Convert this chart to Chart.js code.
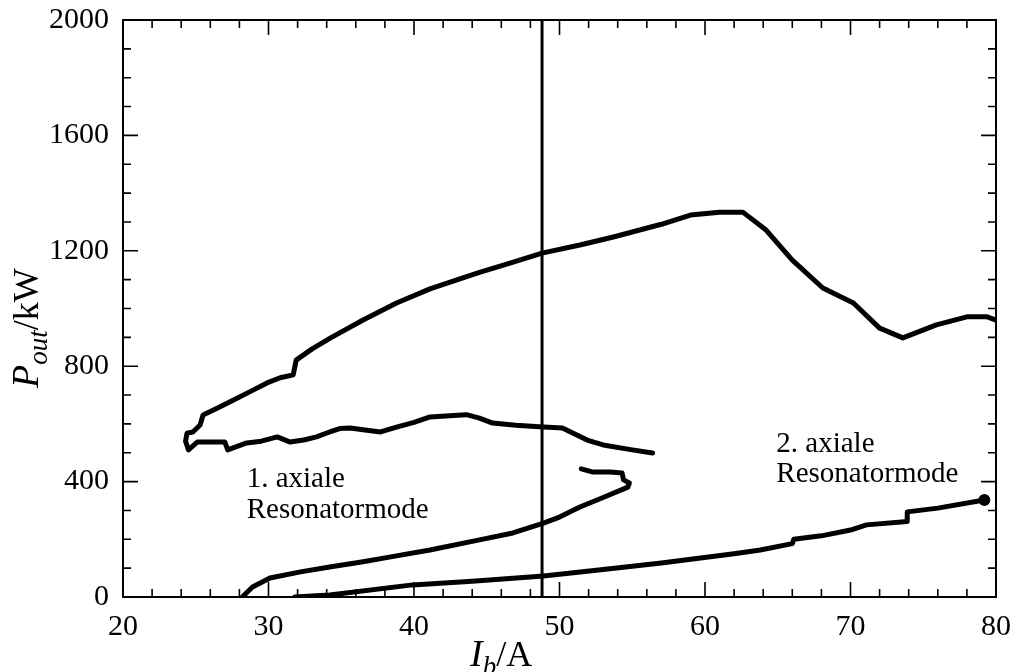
<!DOCTYPE html>
<html lang="de">
<head>
  <meta charset="UTF-8">
  <title>Pout über Ib</title>
  <script src="https://cdn.jsdelivr.net/npm/chart.js"></script>
  <style>
    html, body { margin: 0; padding: 0; background: #fff; }
    #wrap { width: 1018px; height: 672px; }
  </style>
</head>
<body>
  <div id="wrap"><canvas id="chart" width="1018" height="672"></canvas></div>

  <script>
    // Hysterese-Schleife (unterer Ast von rechts nach links, dann oberer Ast)
    const loopI = [56.4, 55.0, 53.0, 51.9, 50.2, 48.9, 47.0, 45.4, 44.5, 43.6, 43.0, 41.1, 40.0, 38.8, 37.7, 36.5, 35.6, 34.9, 34.2, 33.3, 32.5, 31.5, 30.6, 29.5, 28.5, 27.2, 27.0, 25.1, 24.5, 24.3, 24.4, 24.8, 25.3, 25.5, 26.5, 27.6, 28.7, 29.9, 30.8, 31.7, 31.9, 33.0, 34.3, 36.5, 38.8, 41.1, 43.0, 44.5, 46.6, 48.8, 51.4, 53.7, 57.0, 59.0, 61.0, 62.6, 64.2, 66.0, 68.1, 70.2, 72.0, 73.6, 75.9, 78.0, 79.4, 80.0];
    const loopP = [499, 510, 527, 544, 586, 589, 595, 603, 620, 632, 630, 624, 605, 589, 572, 580, 586, 584, 572, 555, 545, 537, 555, 540, 534, 510, 537, 537, 510, 540, 568, 572, 596, 631, 655, 683, 711, 742, 760, 770, 821, 860, 899, 960, 1019, 1068, 1100, 1125, 1157, 1192, 1220, 1248, 1292, 1324, 1334, 1334, 1272, 1168, 1071, 1019, 932, 898, 943, 971, 971, 960];

    // 1. axiale Resonatormode
    const mode1I = [28.2, 28.9, 30.1, 32.2, 34.2, 36.5, 38.4, 41.1, 44.5, 46.8, 48.9, 50.0, 51.4, 53.0, 54.7, 54.8, 54.4, 54.3, 53.5, 52.3, 51.5];
    const mode1P = [0, 35, 66, 87, 104, 122, 139, 163, 198, 222, 256, 277, 312, 345, 381, 395, 406, 430, 433, 433, 444];

    // 2. axiale Resonatormode
    const mode2I = [31.8, 34.2, 39.9, 44.0, 48.9, 53.0, 57.0, 59.7, 62.0, 63.8, 66.0, 66.1, 68.0, 70.0, 71.1, 73.9, 73.9, 76.0, 79.2];
    const mode2P = [0, 7, 42, 55, 73, 95, 118, 135, 150, 163, 185, 200, 212, 232, 250, 262, 295, 308, 336];

    // senkrechte Markierung
    const markerI = 48.8;

    const xMajor = [20, 30, 40, 50, 60, 70, 80];
    const yMajor = [0, 400, 800, 1200, 1600, 2000];

    const serif = '"Liberation Serif", "Times New Roman", serif';

    function pts(xs, ys) {
      return xs.map((x, i) => ({ x: x, y: ys[i] }));
    }

    // Ticks nach innen, auf allen vier Seiten, plus Rahmen und Beschriftungen
    const framePlugin = {
      id: 'frame',
      afterDatasetsDraw(chart) {
        const ctx = chart.ctx;
        const a = chart.chartArea;
        const xs = chart.scales.x, ys = chart.scales.y;
        ctx.save();
        ctx.strokeStyle = '#000';
        ctx.lineWidth = 2;
        ctx.strokeRect(a.left, a.top, a.right - a.left, a.bottom - a.top);

        ctx.lineWidth = 1.6;
        ctx.beginPath();
        xs.ticks.forEach(t => {
          const px = xs.getPixelForValue(t.value);
          const len = xMajor.includes(t.value) ? 15 : 8;
          ctx.moveTo(px, a.bottom); ctx.lineTo(px, a.bottom - len);
          ctx.moveTo(px, a.top); ctx.lineTo(px, a.top + len);
        });
        ys.ticks.forEach(t => {
          const py = ys.getPixelForValue(t.value);
          const len = yMajor.includes(t.value) ? 15 : 8;
          ctx.moveTo(a.left, py); ctx.lineTo(a.left + len, py);
          ctx.moveTo(a.right, py); ctx.lineTo(a.right - len, py);
        });
        ctx.stroke();

        // Textmarken in den Mode-Bereichen
        ctx.fillStyle = '#000';
        ctx.font = '29px ' + serif;
        ctx.textAlign = 'left';
        ctx.textBaseline = 'alphabetic';
        ctx.fillText('1. axiale', xs.getPixelForValue(28.5), ys.getPixelForValue(381));
        ctx.fillText('Resonatormode', xs.getPixelForValue(28.5), ys.getPixelForValue(274));
        ctx.fillText('2. axiale', xs.getPixelForValue(64.9), ys.getPixelForValue(503));
        ctx.fillText('Resonatormode', xs.getPixelForValue(64.9), ys.getPixelForValue(399));

        // Achsentitel mit Index
        function title(x, y, rot, main, sub, rest) {
          ctx.save();
          ctx.translate(x, y);
          ctx.rotate(rot);
          let cx = 0;
          ctx.font = 'italic 38px ' + serif;
          ctx.fillText(main, cx, 0);
          cx += ctx.measureText(main).width;
          ctx.font = 'italic 27px ' + serif;
          ctx.fillText(sub, cx, 9);
          cx += ctx.measureText(sub).width;
          ctx.font = '36px ' + serif;
          ctx.fillText(rest, cx, 0);
          ctx.restore();
        }
        title(470, 666, 0, 'I', 'b', '/A');
        title(38, 388, -Math.PI / 2, 'P', 'out', '/kW');
        ctx.restore();
      }
    };

    const line = { showLine: true, borderColor: '#000', backgroundColor: '#000', pointRadius: 0, borderWidth: 5, borderJoinStyle: 'round', borderCapStyle: 'round', tension: 0 };

    new Chart(document.getElementById('chart'), {
      type: 'scatter',
      data: {
        datasets: [
          Object.assign({ label: 'Schleife', data: pts(loopI, loopP) }, line),
          Object.assign({ label: '1. axiale Resonatormode', data: pts(mode1I, mode1P) }, line),
          Object.assign({ label: '2. axiale Resonatormode', data: pts(mode2I, mode2P) }, line, {
            pointRadius: c => c.dataIndex === mode2I.length - 1 ? 3.5 : 0
          }),
          Object.assign({ label: 'Markierung', data: pts([markerI, markerI], [0, 2000]) }, line, { borderWidth: 3, borderCapStyle: 'butt' })
        ]
      },
      options: {
        responsive: false,
        animation: false,
        layout: { padding: { top: 20, right: 22, left: 0, bottom: 0 } },
        plugins: { legend: { display: false }, tooltip: { enabled: false } },
        scales: {
          x: {
            type: 'linear', min: 20, max: 80,
            afterFit: s => { s.height = 75; s.paddingLeft = 0; s.paddingRight = 0; },
            afterBuildTicks: s => { s.ticks = []; for (let v = 20; v <= 80; v += 2) s.ticks.push({ value: v }); },
            grid: { display: false, drawTicks: false },
            border: { display: false },
            ticks: {
              autoSkip: false, maxRotation: 0, padding: 12, color: '#000',
              font: { family: serif, size: 30 },
              callback: v => xMajor.includes(v) ? String(v) : ''
            }
          },
          y: {
            type: 'linear', min: 0, max: 2000,
            afterFit: s => { s.width = 123; s.paddingTop = 0; s.paddingBottom = 0; },
            afterBuildTicks: s => { s.ticks = []; for (let v = 0; v <= 2000; v += 100) s.ticks.push({ value: v }); },
            grid: { display: false, drawTicks: false },
            border: { display: false },
            ticks: {
              autoSkip: false, padding: 14, color: '#000',
              font: { family: serif, size: 30 },
              callback: v => yMajor.includes(v) ? String(v) : ''
            }
          }
        }
      },
      plugins: [framePlugin]
    });
  </script>
</body>
</html>
